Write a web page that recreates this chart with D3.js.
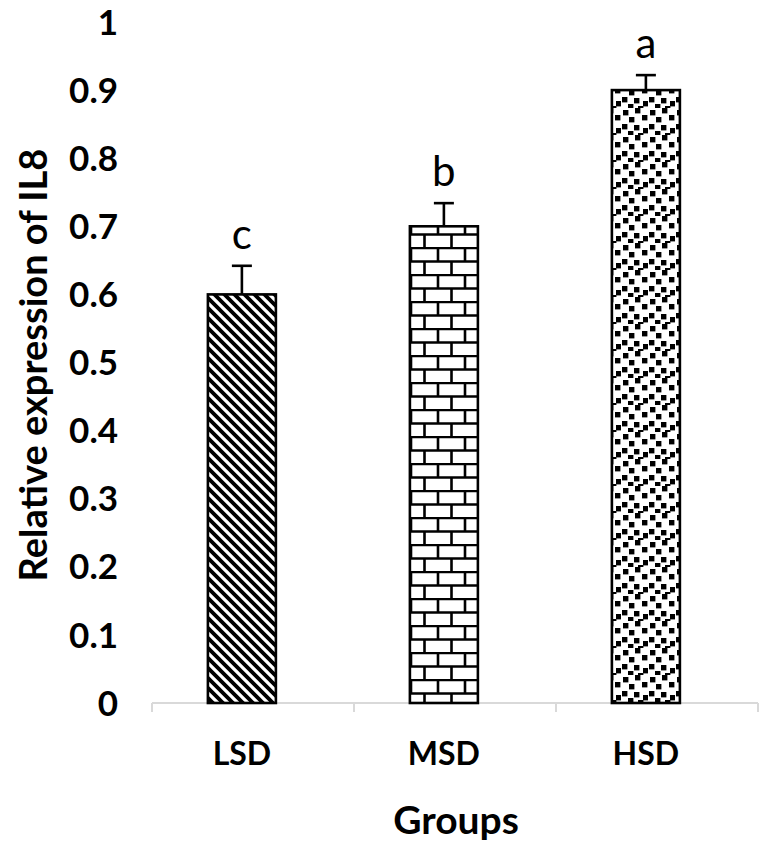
<!DOCTYPE html>
<html>
<head>
<meta charset="utf-8">
<script src="https://cdn.jsdelivr.net/npm/d3@7"></script>
<style>
  body { margin: 0; background: #fff; }
</style>
</head>
<body>
<script>
const width = 768;
const height = 851;

// values
const groups = ["LSD", "MSD", "HSD"];
const means = [0.60, 0.70, 0.90];
const errors = [0.042, 0.034, 0.022];
const letters = ["c", "b", "a"];
const patterns = ["diag", "brick", "confetti"];
const yTicks = [0, 0.1, 0.2, 0.3, 0.4, 0.5, 0.6, 0.7, 0.8, 0.9, 1];

const font = "Lato, 'Open Sans', sans-serif";

const x = d3.scaleBand().domain(groups).range([152, 758]);
const y = d3.scaleLinear().domain([0, 1]).range([703, 22]);
const barW = 68;
// bars sit a little left of the band centre in the original
const barX = g => x(g) + x.bandwidth() * 0.445 - barW / 2;

const svg = d3.select("body").append("svg")
    .attr("width", width)
    .attr("height", height)
    .attr("viewBox", [0, 0, width, height]);

const defs = svg.append("defs");

// wide downward diagonal
const diag = defs.append("pattern")
    .attr("id", "diag")
    .attr("patternUnits", "userSpaceOnUse")
    .attr("width", 10).attr("height", 10);
diag.append("rect").attr("width", 10).attr("height", 10).attr("fill", "#fff");
diag.append("path")
    .attr("d", "M-1,-1L11,11M-6,4L6,16M4,-6L16,6")
    .attr("stroke", "#000")
    .attr("stroke-width", 3.8);

// horizontal brick
const brick = defs.append("pattern")
    .attr("id", "brick")
    .attr("patternUnits", "userSpaceOnUse")
    .attr("width", 27).attr("height", 27)
    .attr("y", 4);
brick.append("rect").attr("width", 27).attr("height", 27).attr("fill", "#fff");
brick.append("path")
    .attr("d", "M0,1H27M0,14.5H27M6,1V14.5M19.5,14.5V28")
    .attr("stroke", "#000")
    .attr("stroke-width", 2.6);

// large confetti
const confettiDots = [[2, 2], [14, 0], [8, 9], [21, 7], [1, 16], [13, 17], [22, 20], [7, 23], [17, 25]];
const confetti = defs.append("pattern")
    .attr("id", "confetti")
    .attr("patternUnits", "userSpaceOnUse")
    .attr("width", 27).attr("height", 27);
confetti.append("rect").attr("width", 27).attr("height", 27).attr("fill", "#fff");
confetti.selectAll("rect.dot")
  .data(confettiDots)
  .join("rect")
    .attr("class", "dot")
    .attr("x", d => d[0]).attr("y", d => d[1])
    .attr("width", 5.4).attr("height", 5.4)
    .attr("fill", "#000");

// x axis: light grey baseline with ticks between the groups
const axis = svg.append("g").attr("stroke", "#d9d9d9").attr("stroke-width", 2).attr("fill", "none");
axis.append("line")
    .attr("x1", 152).attr("x2", 758)
    .attr("y1", y(0)).attr("y2", y(0));
axis.selectAll("line.tick")
  .data(groups.map(g => x(g)).concat([x.range()[1]]))
  .join("line")
    .attr("class", "tick")
    .attr("x1", d => d).attr("x2", d => d)
    .attr("y1", y(0)).attr("y2", y(0) + 9);

// y tick labels, no axis line
svg.append("g")
    .attr("font-family", font)
    .attr("font-weight", "bold")
    .attr("font-size", 35)
    .attr("text-anchor", "end")
  .selectAll("text")
  .data(yTicks)
  .join("text")
    .attr("x", 118)
    .attr("y", d => y(d))
    .attr("dy", "0.36em")
    .text(d => d3.format("")(d));

// bars
svg.append("g")
  .selectAll("rect")
  .data(groups)
  .join("rect")
    .attr("x", g => barX(g))
    .attr("y", (g, i) => y(means[i]))
    .attr("width", barW)
    .attr("height", (g, i) => y(0) - y(means[i]))
    .attr("fill", (g, i) => `url(#${patterns[i]})`)
    .attr("stroke", "#000")
    .attr("stroke-width", 2.6);

// upper error bars
const err = svg.append("g").attr("stroke", "#000").attr("stroke-width", 2.6);
groups.forEach((g, i) => {
  const cx = barX(g) + barW / 2;
  err.append("line")
      .attr("x1", cx).attr("x2", cx)
      .attr("y1", y(means[i])).attr("y2", y(means[i] + errors[i]));
  err.append("line")
      .attr("x1", cx - 10).attr("x2", cx + 10)
      .attr("y1", y(means[i] + errors[i])).attr("y2", y(means[i] + errors[i]));
});

// significance letters
svg.append("g")
    .attr("font-family", font)
    .attr("font-size", 42)
    .attr("text-anchor", "middle")
  .selectAll("text")
  .data(groups)
  .join("text")
    .attr("x", g => barX(g) + barW / 2)
    .attr("y", (g, i) => y(means[i] + errors[i]) - 17)
    .text((g, i) => letters[i]);

// category labels
svg.append("g")
    .attr("font-family", font)
    .attr("font-weight", "bold")
    .attr("font-size", 32)
    .attr("text-anchor", "middle")
  .selectAll("text")
  .data(groups)
  .join("text")
    .attr("x", g => barX(g) + barW / 2)
    .attr("y", 765)
    .text(g => g);

// axis titles
svg.append("text")
    .attr("x", 456).attr("y", 834)
    .attr("font-family", font)
    .attr("font-weight", "bold")
    .attr("font-size", 39)
    .attr("text-anchor", "middle")
    .text("Groups");

svg.append("text")
    .attr("transform", "translate(47,365) rotate(-90)")
    .attr("font-family", font)
    .attr("font-weight", "bold")
    .attr("font-size", 38)
    .attr("text-anchor", "middle")
    .text("Relative expression of IL8");
</script>
</body>
</html>
